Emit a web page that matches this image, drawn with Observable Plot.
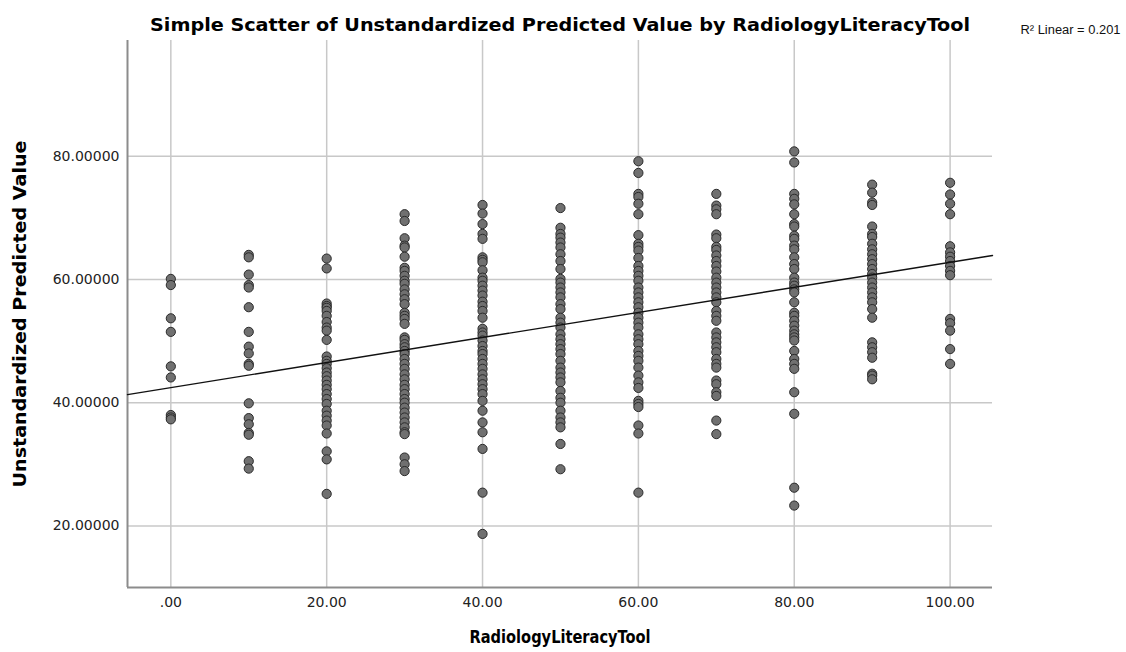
<!DOCTYPE html>
<html>
<head>
<meta charset="utf-8">
<script src="https://cdn.jsdelivr.net/npm/d3@7"></script>
<script src="https://cdn.jsdelivr.net/npm/@observablehq/plot@0.6"></script>
<style>
  html, body { margin: 0; padding: 0; background: #fff; }
  #chart svg { display: block; }
</style>
</head>
<body>
<div id="chart"></div>
<script>
// ---- Text ----
const titleText = "Simple Scatter of Unstandardized Predicted Value by RadiologyLiteracyTool";
const xLabel = "RadiologyLiteracyTool";
const yLabel = "Unstandardized Predicted Value";
const r2Label = "R\u00B2 Linear = 0.201";

// ---- Ticks ----
const xTicks = [0, 20, 40, 60, 80, 100];
const xTickLabels = [".00", "20.00", "40.00", "60.00", "80.00", "100.00"];
const yTicks = [20, 40, 60, 80];
const yTickLabels = ["20.00000", "40.00000", "60.00000", "80.00000"];

// ---- Domains ----
const xDomain = [-5.56, 105.44];
const yDomain = [10, 98.8];

// ---- Data: predicted values at each RadiologyLiteracyTool score ----
const scores = [0, 10, 20, 30, 40, 50, 60, 70, 80, 90, 100];
const pred0 = [60.1, 59.1, 53.7, 51.5, 45.9, 44.1, 38.0, 37.6, 37.3];
const pred10 = [64.0, 63.6, 60.8, 59.1, 58.7, 55.5, 51.5, 49.1, 48.0, 46.3, 46.0, 39.9, 37.5, 36.5, 35.1, 34.8, 30.5, 29.3];
const pred20 = [63.4, 61.8, 56.1, 55.7, 55.4, 54.9, 54.1, 53.1, 52.2, 51.7, 50.2, 47.5, 46.8, 46.3, 45.6, 44.9, 44.3, 43.6, 42.9, 42.2, 41.4, 40.6, 39.8, 38.7, 37.9, 37.1, 36.3, 35.0, 32.1, 30.8, 25.2];
const pred30 = [70.6, 69.5, 66.7, 65.5, 65.2, 63.7, 61.9, 61.4, 60.6, 59.8, 59.3, 58.4, 57.6, 56.8, 56.0, 54.6, 54.1, 53.6, 52.8, 50.6, 50.2, 49.5, 49.0, 48.4, 47.9, 47.1, 46.3, 45.5, 44.6, 43.8, 42.9, 42.2, 41.4, 40.6, 40.0, 39.2, 38.4, 37.6, 36.8, 36.0, 35.2, 34.9, 31.1, 30.0, 28.9];
const pred40 = [72.1, 70.7, 69.0, 67.4, 66.6, 63.6, 63.2, 62.8, 61.5, 60.3, 59.8, 59.0, 58.2, 57.4, 56.4, 55.7, 54.9, 53.8, 52.0, 51.4, 50.9, 50.1, 49.2, 48.4, 47.9, 47.1, 46.3, 45.5, 44.6, 43.8, 43.0, 42.2, 41.4, 40.3, 38.7, 36.8, 35.2, 32.5, 25.4, 18.7];
const pred50 = [71.6, 68.4, 67.4, 66.8, 66.0, 65.2, 64.1, 63.0, 61.7, 60.1, 59.5, 58.7, 57.9, 57.1, 56.0, 55.2, 53.8, 53.0, 52.2, 51.1, 50.3, 49.5, 48.7, 47.9, 46.8, 45.7, 44.9, 44.1, 43.3, 41.9, 40.8, 40.0, 38.7, 37.6, 36.8, 36.0, 33.3, 29.2];
const pred60 = [79.2, 77.3, 73.9, 73.4, 72.3, 70.6, 67.2, 65.8, 65.3, 64.7, 63.5, 62.2, 61.4, 60.6, 59.8, 58.7, 57.9, 57.1, 56.3, 55.5, 54.6, 53.8, 53.0, 52.2, 51.1, 50.3, 49.5, 48.4, 47.6, 46.8, 45.7, 44.4, 43.3, 42.4, 40.3, 39.8, 39.3, 36.3, 35.0, 25.4];
const pred70 = [73.9, 72.0, 71.4, 70.6, 67.3, 66.7, 65.3, 64.8, 63.9, 63.0, 62.2, 61.3, 60.3, 59.5, 58.7, 57.9, 57.1, 56.3, 54.9, 54.1, 53.3, 51.4, 50.6, 49.8, 49.0, 48.2, 47.1, 46.3, 45.7, 43.6, 43.0, 41.7, 41.1, 37.1, 34.9];
const pred80 = [80.8, 79.0, 73.9, 73.1, 72.2, 70.6, 69.0, 68.6, 67.1, 66.6, 65.5, 64.9, 63.6, 62.5, 61.7, 60.3, 59.5, 59.0, 58.4, 57.9, 56.3, 54.6, 54.1, 53.3, 52.5, 51.7, 51.1, 50.6, 50.1, 48.4, 47.1, 46.3, 45.5, 41.7, 38.2, 26.2, 23.3];
const pred90 = [75.4, 74.1, 72.5, 72.1, 68.6, 67.4, 66.9, 65.8, 64.9, 64.1, 63.3, 62.5, 61.7, 60.9, 60.3, 59.5, 58.7, 57.9, 57.1, 56.3, 55.2, 53.8, 49.8, 49.0, 48.2, 47.3, 44.7, 44.4, 43.8];
const pred100 = [75.7, 73.8, 72.3, 70.6, 65.4, 64.4, 63.7, 63.0, 62.2, 61.4, 60.7, 53.6, 52.9, 51.7, 48.7, 46.3];
const predByScore = [pred0, pred10, pred20, pred30, pred40, pred50, pred60, pred70, pred80, pred90, pred100];

// ---- Fit line (R² Linear = 0.201) ----
const fitIntercept = 42.45;
const fitSlope = 0.2035;
const fitXs = [xDomain[0], xDomain[1]];

// ---- Build tables ----
const points = scores.flatMap((s, i) => predByScore[i].map(v => ({x: s, y: v})));
const fit = fitXs.map(x => ({x, y: fitIntercept + fitSlope * x}));

const tickFont = "'DejaVu Sans', Verdana, sans-serif";
const boldFont = "'DejaVu Sans Condensed', 'DejaVu Sans', sans-serif";

const chart = Plot.plot({
  width: 1126,
  height: 652,
  marginTop: 40,
  marginLeft: 127,
  marginRight: 134,
  marginBottom: 65,
  style: {fontFamily: tickFont, background: "#fff", color: "#222"},
  x: {domain: xDomain},
  y: {domain: yDomain},
  marks: [
    Plot.gridX(xTicks, {stroke: "#c8c8c8", strokeOpacity: 1, strokeWidth: 1.5}),
    Plot.gridY(yTicks, {stroke: "#c8c8c8", strokeOpacity: 1, strokeWidth: 1.5}),
    Plot.ruleX([xDomain[0]], {stroke: "#8c8c8c", strokeWidth: 2}),
    Plot.ruleY([yDomain[0]], {stroke: "#8c8c8c", strokeWidth: 2}),
    Plot.dot(points, {x: "x", y: "y", r: 4.6, fill: "#707070", stroke: "#2a2a2a", strokeWidth: 1}),
    Plot.line(fit, {x: "x", y: "y", stroke: "#111", strokeWidth: 1.4}),
    Plot.axisX(xTicks, {tickSize: 0, tickPadding: 10, fontSize: 14, fill: "#222",
      tickFormat: d => xTickLabels[xTicks.indexOf(d)], label: null}),
    Plot.axisY(yTicks, {tickSize: 0, tickPadding: 8, fontSize: 14, fill: "#222",
      tickFormat: d => yTickLabels[yTicks.indexOf(d)], label: null}),
    Plot.text([titleText], {frameAnchor: "top", dy: -15, lineAnchor: "middle", textAnchor: "middle",
      fontSize: 18, fontWeight: "bold", fontFamily: boldFont, fill: "#000", className: "ttl"}),
    Plot.text([xLabel], {frameAnchor: "bottom", dy: 50, lineAnchor: "middle", textAnchor: "middle",
      fontSize: 18, fontWeight: "bold", fontFamily: boldFont, fill: "#000", className: "xl"}),
    Plot.text([yLabel], {frameAnchor: "left", dx: -107, rotate: -90, lineAnchor: "middle", textAnchor: "middle",
      fontSize: 18, fontWeight: "bold", fontFamily: "'DejaVu Sans', sans-serif", fill: "#000", className: "yl"}),
    Plot.text([r2Label], {frameAnchor: "top-right", dx: 28, dy: -10, lineAnchor: "middle", textAnchor: "start",
      fontSize: 12, fontFamily: "'Liberation Sans', Arial, sans-serif", fill: "#111", className: "r2"})
  ]
});
document.getElementById("chart").appendChild(chart);

// stretch label texts to the widths seen in the reference
const fitWidth = (cls, w) => {
  const t = chart.querySelector("g." + cls + " text");
  if (t) { t.setAttribute("textLength", w); t.setAttribute("lengthAdjust", "spacingAndGlyphs"); }
};
fitWidth("ttl", 820);
fitWidth("xl", 181);
fitWidth("yl", 347);
fitWidth("r2", 100);
</script>
</body>
</html>
